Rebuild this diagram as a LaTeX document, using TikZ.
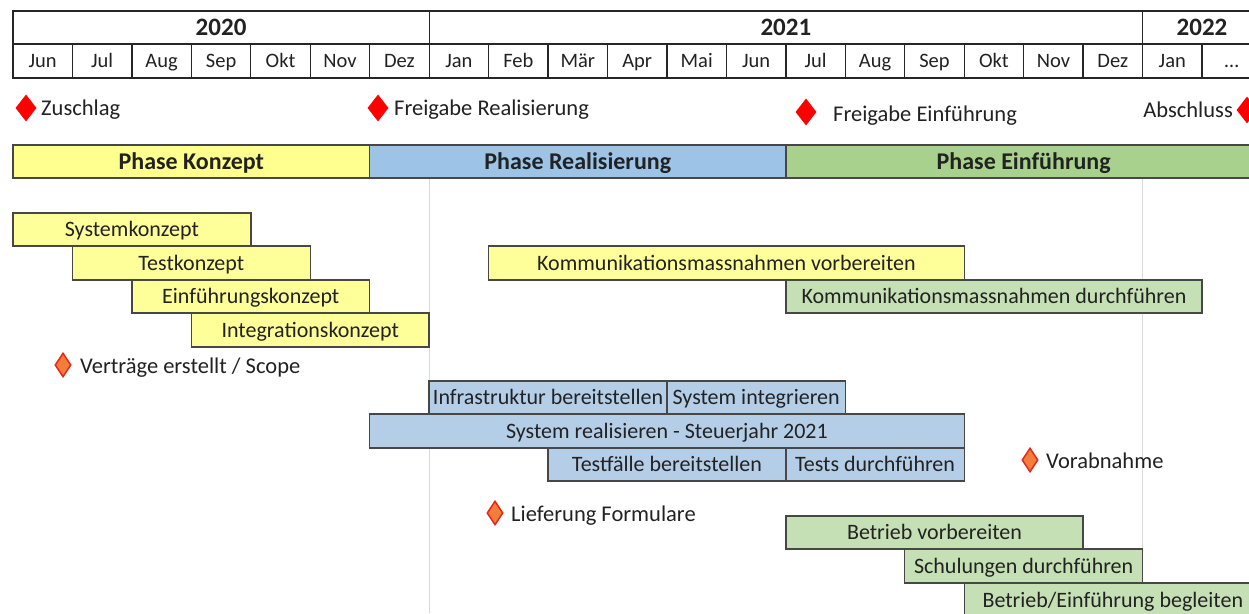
\documentclass[tikz,border=0pt]{standalone}
\usepackage{fontspec}
\setmainfont{Carlito}
\usetikzlibrary{shapes.geometric}
\definecolor{phyel}{HTML}{FFFF8F}
\definecolor{phblu}{HTML}{9DC3E6}
\definecolor{phgrn}{HTML}{A9D18E}
\definecolor{tkyel}{HTML}{FFFF99}
\definecolor{tkblu}{HTML}{B4CEE8}
\definecolor{tkgrn}{HTML}{C5E0B4}
\definecolor{msred}{HTML}{FF0000}
\definecolor{msora}{HTML}{F27E3A}
\definecolor{msbrd}{HTML}{E8271C}
\definecolor{txt}{HTML}{222222}
\definecolor{grid}{HTML}{D9D9D9}
\newcommand\gbar[7]{\node[#6,minimum width={(#4)-(#2)},minimum height={(#5)-(#3)}] (#1) at ({((#2)+(#4))/2},{((#3)+(#5))/2}) {#7};}
\begin{document}
\begin{tikzpicture}[x=1pt,y=-1pt,
  declare function={mx(\k)=13+59.45*\k;},
  cell/.style={draw=black!85,line width=1.3pt,inner sep=0pt,text=txt,font=\fontsize{20.5}{22}\selectfont,text height=13.2pt,text depth=0pt},
  yearcell/.style={cell,font=\bfseries\fontsize{25}{27}\selectfont,text height=16pt},
  bar/.style={draw=black!72,line width=1.4pt,inner sep=0pt,text=txt,font=\fontsize{22}{24}\selectfont,text height=14pt,text depth=0pt},
  phasebar/.style={bar,font=\bfseries\fontsize{24}{26}\selectfont,text height=15.4pt},
  redms/.style={diamond,fill=msred,inner sep=0pt,minimum width=21pt,minimum height=27pt},
  orams/.style={diamond,fill=msora,draw=msbrd,line width=1.5pt,inner sep=0pt,minimum width=16pt,minimum height=24pt},
  mslabel/.style={inner sep=0pt,text=txt,font=\fontsize{22.5}{24}\selectfont,text height=14.4pt,text depth=0pt}
]
\useasboundingbox (0,0) rectangle (1249,613);
\fill[white] (0,0) rectangle (1249,613);
\clip (0,0) rectangle (1249,613);

% grid lines
\coordinate (g1t) at ({mx(7)},178);
\coordinate (g1b) at ({mx(7)},613);
\coordinate (g2t) at ({mx(19)},178);
\coordinate (g2b) at ({mx(19)},613);
\draw[grid,line width=1.2pt] (g1t) -- (g1b);
\draw[grid,line width=1.2pt] (g2t) -- (g2b);

% header
\gbar{y2020}{mx(0)}{11}{mx(7)}{44}{yearcell}{2020}
\gbar{y2021}{mx(7)}{11}{mx(19)}{44}{yearcell}{2021}
\gbar{y2022}{mx(19)}{11}{mx(21)}{44}{yearcell}{2022}
\foreach \m [count=\i from 0] in {Jun,Jul,Aug,Sep,Okt,Nov,Dez,Jan,Feb,Mär,Apr,Mai,Jun,Jul,Aug,Sep,Okt,Nov,Dez,Jan,\ldots}{
  \pgfmathsetmacro\nx{\i+1}
  \gbar{m\i}{mx(\i)}{44}{mx(\nx)}{78}{cell}{\m}
}

% top milestones
\node[redms] (ms1) at (26,108) {};
\node[mslabel,anchor=west] (ms1l) at (41,108) {Zuschlag};
\node[redms] (ms2) at (378,108) {};
\node[mslabel,anchor=west] (ms2l) at (394,108) {Freigabe Realisierung};
\node[redms] (ms3) at (806,112) {};
\node[mslabel,anchor=west] (ms3l) at (833,114) {Freigabe Einführung};
\node[redms] (ms4) at (1247,110) {};
\node[mslabel,anchor=east] (ms4l) at (1233,110) {Abschluss};

% phases
\gbar{ph1}{mx(0)}{145}{mx(6)}{178}{phasebar,fill=phyel}{Phase Konzept}
\gbar{ph2}{mx(6)}{145}{mx(13)}{178}{phasebar,fill=phblu}{Phase Realisierung}
\gbar{ph3}{mx(13)}{145}{mx(21)}{178}{phasebar,fill=phgrn}{Phase Einführung}

% concept tasks
\gbar{t1}{mx(0)}{213}{mx(4)}{246}{bar,fill=tkyel}{Systemkonzept}
\gbar{t2}{mx(1)}{246}{mx(5)}{280}{bar,fill=tkyel}{Testkonzept}
\gbar{t3}{mx(2)}{280}{mx(6)}{313}{bar,fill=tkyel}{Einführungskonzept}
\gbar{t4}{mx(3)}{313}{mx(7)}{347}{bar,fill=tkyel}{Integrationskonzept}
\node[orams] (ms5) at (63,365) {};
\node[mslabel,anchor=west] (ms5l) at (80,366) {Verträge erstellt / Scope};

% communication
\gbar{k1}{mx(8)}{246}{mx(16)}{280}{bar,fill=tkyel}{Kommunikationsmassnahmen vorbereiten}
\gbar{k2}{mx(13)}{280}{mx(20)}{313}{bar,fill=tkgrn}{Kommunikationsmassnahmen durchführen}

% realisation
\gbar{r1}{mx(7)}{381}{mx(11)}{414}{bar,fill=tkblu}{Infrastruktur bereitstellen}
\gbar{r2}{mx(11)}{381}{mx(14)}{414}{bar,fill=tkblu}{System integrieren}
\gbar{r3}{mx(6)}{414}{mx(16)}{448}{bar,fill=tkblu}{System realisieren - Steuerjahr 2021}
\gbar{r4}{mx(9)}{448}{mx(13)}{481}{bar,fill=tkblu}{Testfälle bereitstellen}
\gbar{r5}{mx(13)}{448}{mx(16)}{481}{bar,fill=tkblu}{Tests durchführen}
\node[orams] (ms6) at (1030,460) {};
\node[mslabel,anchor=west] (ms6l) at (1046,461) {Vorabnahme};
\node[orams] (ms7) at (495,513) {};
\node[mslabel,anchor=west] (ms7l) at (511,514) {Lieferung Formulare};

% introduction
\gbar{e1}{mx(13)}{516}{mx(18)}{549}{bar,fill=tkgrn}{Betrieb vorbereiten}
\gbar{e2}{mx(15)}{549}{mx(19)}{583}{bar,fill=tkgrn}{Schulungen durchführen}
\gbar{e3}{mx(16)}{583}{mx(21)}{617}{bar,fill=tkgrn}{Betrieb/Einführung begleiten}
\end{tikzpicture}
\end{document}
